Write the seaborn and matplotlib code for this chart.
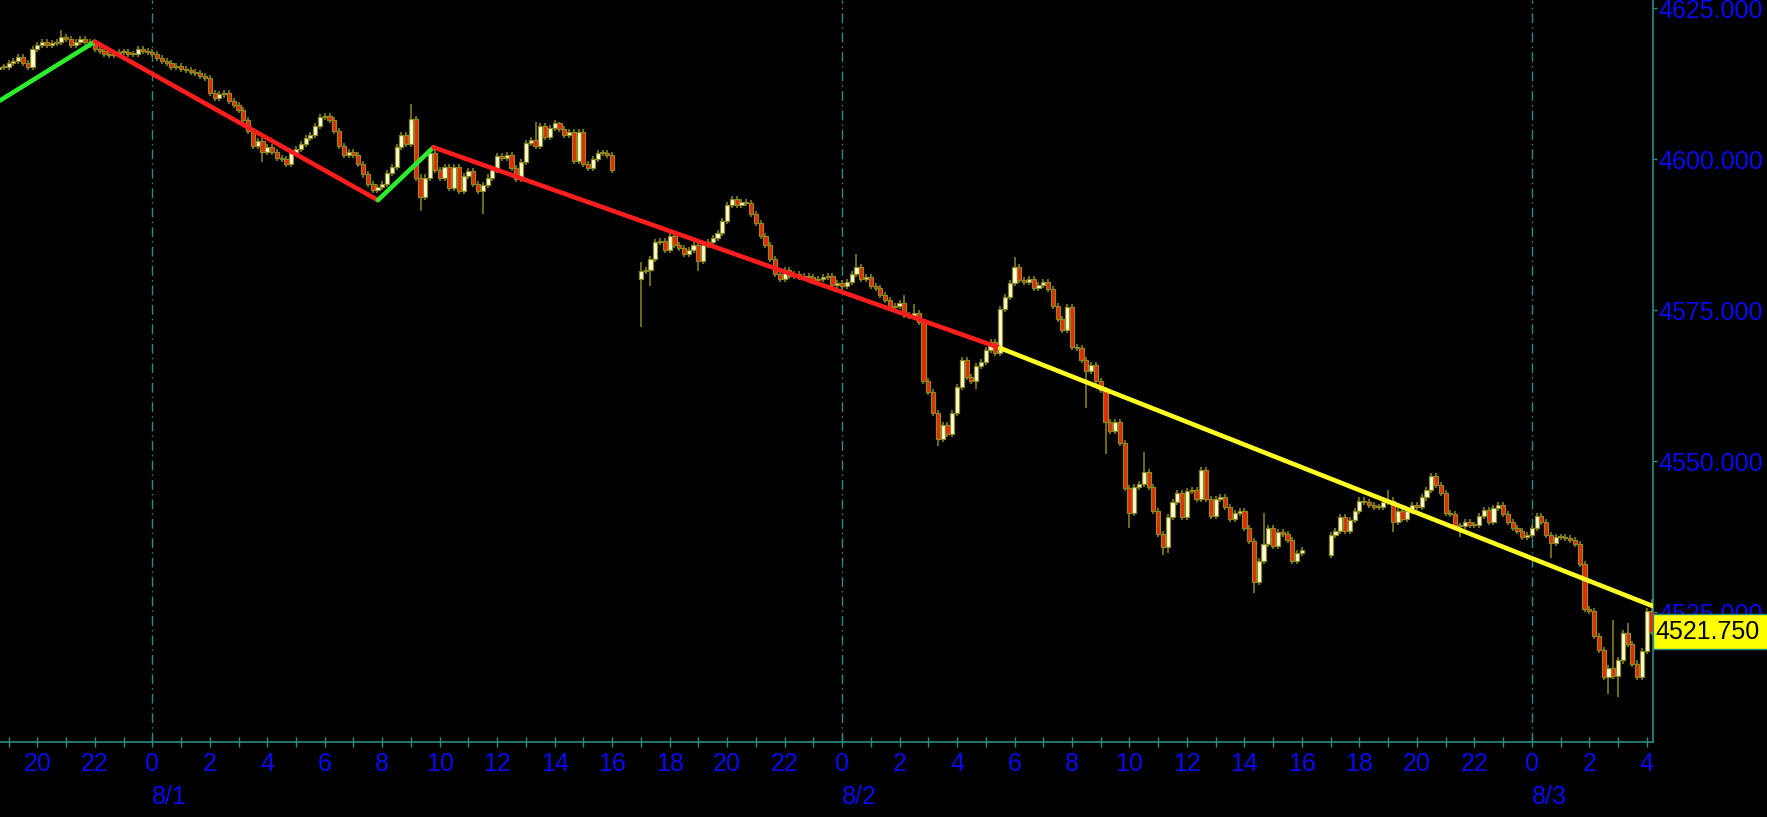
import numpy as np
import pandas as pd
import matplotlib
matplotlib.use("Agg")
import matplotlib.pyplot as plt
import matplotlib.transforms as mtransforms
from matplotlib.patches import Rectangle
import seaborn as sns

# ---------------- data (10-minute bars) ----------------
session_starts = ["2023-07-31 18:40", "2023-08-01 17:00", "2023-08-02 17:00"]
session_first_open = [4615.0, 4580.25, 4534.5]

closes_s1 = [
    4615.25, 4615.25,
    4616.0, 4616.25, 4617.0, 4616.0, 4615.25, 4618.25,      # 19
    4619.0, 4619.5, 4619.0, 4619.25, 4619.5, 4620.25,       # 20
    4620.0, 4619.0, 4619.5, 4620.0, 4619.5, 4619.0,         # 21
    4618.25, 4618.0, 4617.5, 4617.25, 4617.5, 4617.75,      # 22
    4617.75, 4617.5, 4617.5, 4618.25, 4618.0, 4617.75,      # 23
    4617.5, 4616.75, 4616.25, 4616.0, 4615.25, 4615.5,      # 0
    4615.0, 4614.75, 4614.5, 4614.25, 4613.75, 4613.5,      # 1
    4611.0, 4610.25, 4610.75, 4611.0, 4609.75, 4609.0,      # 2
    4608.25, 4606.5, 4604.75, 4602.25, 4603.0, 4601.25,     # 3
    4602.0, 4601.25, 4600.25, 4600.0, 4599.25, 4601.0,      # 4
    4601.75, 4602.5, 4603.5, 4604.0, 4605.5, 4607.0,        # 5
    4607.25, 4606.5, 4604.75, 4602.25, 4600.75, 4601.25,    # 6
    4600.75, 4599.25, 4597.5, 4596.0, 4595.0, 4595.5,       # 7
    4596.0, 4597.75, 4598.75, 4602.0, 4604.0, 4602.5,       # 8
    4606.75, 4597.0, 4593.75, 4597.0, 4601.0, 4598.25,      # 9
    4597.0, 4598.75, 4595.25, 4598.75, 4594.75, 4597.25,    # 10
    4598.0, 4596.0, 4594.75, 4595.75, 4597.0, 4598.25,      # 11
    4600.5, 4600.25, 4600.75, 4598.5, 4596.75, 4599.5,      # 12
    4602.75, 4603.25, 4602.25, 4605.5, 4603.75, 4605.25,    # 13
    4606.0, 4605.0, 4604.0, 4604.5, 4599.75, 4604.5,        # 14
    4599.25, 4598.5, 4600.0, 4601.0, 4601.0, 4600.75,       # 15
    4598.25,                                                # 16
]

closes_s2 = [
    4581.5, 4581.75, 4583.5, 4586.25, 4586.5, 4585.0,       # 17
    4587.25, 4585.75, 4585.25, 4584.25, 4585.0, 4585.75,    # 18
    4583.25, 4585.75, 4586.25, 4587.0, 4587.75, 4589.75,    # 19
    4592.5, 4593.5, 4592.5, 4593.0, 4592.75, 4591.0,        # 20
    4589.5, 4587.25, 4585.75, 4583.5, 4581.0, 4580.25,      # 21
    4581.75, 4580.75, 4581.0, 4580.5, 4580.75, 4580.5,      # 22
    4580.0, 4580.25, 4580.5, 4580.75, 4579.25, 4579.5,      # 23
    4579.0, 4579.75, 4581.0, 4582.25, 4580.25, 4580.5,      # 0
    4579.0, 4578.75, 4577.5, 4576.75, 4575.5, 4575.75,      # 1
    4576.25, 4574.25, 4574.0, 4574.5, 4573.0, 4563.25,      # 2
    4561.5, 4558.0, 4553.75, 4556.0, 4554.5, 4558.0,        # 3
    4562.25, 4566.75, 4564.0, 4563.25, 4565.75, 4566.5,     # 4
    4568.5, 4569.75, 4568.0, 4575.25, 4577.25, 4579.5,      # 5
    4582.25, 4580.0, 4579.75, 4580.25, 4578.75, 4579.25,    # 6
    4579.75, 4578.5, 4575.75, 4573.5, 4571.75, 4575.5,      # 7
    4569.0, 4568.75, 4566.75, 4565.0, 4566.0, 4563.25,      # 8
    4561.75, 4556.5, 4555.0, 4556.5, 4553.0, 4545.5,        # 9
    4541.5, 4545.75, 4546.25, 4548.25, 4545.75, 4541.75,    # 10
    4538.0, 4535.75, 4540.75, 4543.25, 4544.75, 4540.75,    # 11
    4545.0, 4545.25, 4543.75, 4548.5, 4543.75, 4541.0,      # 12
    4543.75, 4544.0, 4542.5, 4540.5, 4541.5, 4541.75,       # 13
    4539.0, 4536.75, 4530.0, 4533.5, 4536.25, 4539.0,       # 14
    4536.0, 4538.25, 4538.0, 4537.0, 4533.5, 4534.75,       # 15
    4535.25,                                                # 16
]

closes_s3 = [
    4537.75, 4538.5, 4540.75, 4538.5, 4540.25, 4541.75,     # 17
    4543.5, 4543.25, 4542.75, 4542.5, 4542.5, 4543.25,      # 18
    4543.5, 4540.0, 4541.75, 4540.5, 4541.75, 4542.75,      # 19
    4542.5, 4544.0, 4545.25, 4547.5, 4546.0, 4544.75,       # 20
    4541.5, 4541.25, 4539.25, 4539.25, 4540.0, 4539.5,      # 21
    4539.5, 4541.0, 4542.0, 4540.0, 4542.25, 4542.75,       # 22
    4541.25, 4540.0, 4539.0, 4538.5, 4537.5, 4537.75,       # 23
    4539.0, 4541.0, 4540.0, 4537.75, 4536.5, 4537.5,        # 0
    4537.5, 4537.25, 4537.0, 4536.25, 4533.0, 4525.5,       # 1
    4525.25, 4521.0, 4518.75, 4514.25, 4515.75, 4514.5,     # 2
    4517.0, 4521.5, 4519.75, 4516.5, 4514.25, 4518.5,       # 3
    4525.25, 4521.75,                                       # 4
]

# long wicks visible in the picture
wick_highs = {
    "2023-07-31 20:50": 4621.5, "2023-08-01 09:00": 4609.25,
    "2023-08-01 13:20": 4606.25, "2023-08-01 14:10": 4606.25,
    "2023-08-01 17:00": 4583.0, "2023-08-02 00:30": 4584.25,
    "2023-08-02 02:10": 4577.5, "2023-08-02 02:30": 4576.0,
    "2023-08-02 06:00": 4583.75, "2023-08-02 10:30": 4551.5,
    "2023-08-02 14:40": 4541.5, "2023-08-02 19:00": 4545.25,
    "2023-08-03 02:50": 4523.75, "2023-08-03 03:20": 4523.25,
    "2023-08-03 04:10": 4527.25,
}
wick_lows = {
    "2023-08-01 03:50": 4599.5, "2023-08-01 04:40": 4598.75,
    "2023-08-01 09:20": 4591.5, "2023-08-01 11:30": 4591.0,
    "2023-08-01 17:00": 4572.25, "2023-08-01 17:20": 4579.0,
    "2023-08-01 19:00": 4581.5, "2023-08-02 03:20": 4552.5,
    "2023-08-02 04:40": 4562.0, "2023-08-02 08:30": 4558.75,
    "2023-08-02 09:10": 4551.25, "2023-08-02 10:00": 4539.0,
    "2023-08-02 11:10": 4534.5, "2023-08-02 11:20": 4534.75,
    "2023-08-02 14:20": 4528.25, "2023-08-02 19:10": 4538.25,
    "2023-08-02 21:30": 4537.5, "2023-08-03 00:40": 4534.0,
    "2023-08-03 02:40": 4511.5, "2023-08-03 03:00": 4511.0,
}

# trend lines (pivot times and prices)
trend_times = ["2023-07-31 18:42", "2023-07-31 22:00", "2023-08-01 07:51",
               "2023-08-01 09:47", "2023-08-02 05:30", "2023-08-03 04:13"]
trend_prices = [4609.75, 4619.5, 4593.25, 4602.0, 4568.75, 4526.0]
trend_colors = ["#2DEB2D", "#FF1E1E", "#2DEB2D", "#FF1E1E", "#FFFF24"]

y_ticks = [4525, 4550, 4575, 4600, 4625]
last_price = 4521.75
day_starts = ["2023-08-01", "2023-08-02", "2023-08-03"]
day_labels = ["8/1", "8/2", "8/3"]
view_start = "2023-07-31 18:42"
view_end = "2023-08-03 04:13"
price_range = (4503.5, 4626.4)

# ---------------- styling ----------------
sns.set_theme(style="dark")
plt.rcParams["font.family"] = ["Liberation Sans", "DejaVu Sans"]
BG = "black"
TEAL = "#2A8C86"
BLUE = "#0A0AF0"
OLIVE = "#8E8A1E"
UP = "#FFFFDC"
DOWN = "#EA2608"

origin = pd.Timestamp(day_starts[0])
hrs = lambda ts: (pd.Timestamp(ts) - origin) / pd.Timedelta(hours=1)

rows = []
for start, o0, closes in zip(session_starts, session_first_open,
                             [closes_s1, closes_s2, closes_s3]):
    times = pd.date_range(start, periods=len(closes), freq="10min")
    opens = [o0] + closes[:-1]
    for ts, o, c in zip(times, opens, closes):
        key = ts.strftime("%Y-%m-%d %H:%M")
        hi = wick_highs.get(key, max(o, c) + 0.5)
        lo = wick_lows.get(key, min(o, c) - 0.5)
        rows.append(dict(t=hrs(ts), open=o, close=c, high=hi, low=lo))
df = pd.DataFrame(rows)
df["up"] = df["close"] >= df["open"]
df["bottom"] = df[["open", "close"]].min(axis=1)
df["height"] = (df["close"] - df["open"]).abs().clip(lower=0.15)

W, H = 1767, 817
fig = plt.figure(figsize=(W / 100, H / 100), dpi=100, facecolor=BG)
ax = fig.add_axes([0, 1 - 742 / H, 1653 / W, 742 / H])
ax.set_facecolor(BG)

# midnight separators
for d in day_starts:
    ax.axvline(hrs(d), color=TEAL, lw=1.0, ls=(0, (7, 3, 1, 3)), zorder=1)

# candles
ax.vlines(df["t"], df["low"], df["high"], color=OLIVE, lw=1.1, zorder=2)
ax.bar(df["t"], df["height"], bottom=df["bottom"], width=0.145, align="center",
       color=np.where(df["up"], UP, DOWN), edgecolor=OLIVE, linewidth=0.9, zorder=3)

# trend lines
seg_rows = []
for i in range(len(trend_times) - 1):
    for j in (i, i + 1):
        seg_rows.append(dict(t=hrs(trend_times[j]), p=trend_prices[j], seg=str(i)))
seg_df = pd.DataFrame(seg_rows)
sns.lineplot(data=seg_df, x="t", y="p", hue="seg", palette=trend_colors,
             legend=False, sort=False, lw=3.3, ax=ax, zorder=5)

ax.set_xlim(hrs(view_start), hrs(view_end))
ax.set_ylim(*price_range)
ax.set_xlabel("")
ax.set_ylabel("")
ax.grid(False)

# spines
for s in ["top", "left"]:
    ax.spines[s].set_visible(False)
for s in ["right", "bottom"]:
    ax.spines[s].set_visible(True)
    ax.spines[s].set_color(TEAL)
    ax.spines[s].set_linewidth(1.2)

# x ticks
x0, x1 = ax.get_xlim()
major = np.arange(np.ceil(x0 / 2) * 2, x1 + 0.01, 2)
minor = np.arange(np.ceil(x0), x1 + 0.01, 1)
minor = minor[~np.isin(minor, major)]
ax.set_xticks(major)
ax.set_xticklabels([str(int(h) % 24) for h in major])
ax.set_xticks(minor, minor=True)
ax.tick_params(axis="x", which="both", direction="inout", length=7, width=1,
               color=TEAL, labelcolor=BLUE, labelsize=18, pad=3.5, bottom=True)

# y ticks on the right
ax.yaxis.tick_right()
ax.set_yticks(y_ticks)
ax.set_yticklabels([f"{v:.3f}" for v in y_ticks])
ax.tick_params(axis="y", direction="out", length=3, width=1, color=TEAL,
               labelcolor=BLUE, labelsize=18, pad=1, right=True, left=False)

# date labels
tr_dates = mtransforms.blended_transform_factory(ax.transData, ax.transAxes)
for d, lab in zip(day_starts, day_labels):
    ax.text(hrs(d), -55 / 742, lab, transform=tr_dates, ha="left", va="center",
            color=BLUE, fontsize=18, clip_on=False)

# last price box (covers the 4525 label, as in the original)
tr_box = mtransforms.blended_transform_factory(ax.transAxes, ax.transData)
ax.add_patch(Rectangle((1.0, last_price - 2.9), 0.2, 5.8, transform=tr_box,
                       facecolor="#FFFF00", edgecolor=TEAL, lw=1.0,
                       clip_on=False, zorder=20))
tr_txt = mtransforms.offset_copy(tr_box, fig=fig, x=2, y=0, units="dots")
ax.text(1.0, last_price, f"{last_price:.3f}", transform=tr_txt, ha="left",
        va="center", color="black", fontsize=18, clip_on=False, zorder=21)

fig.savefig("out.png", dpi=100, facecolor=BG)
